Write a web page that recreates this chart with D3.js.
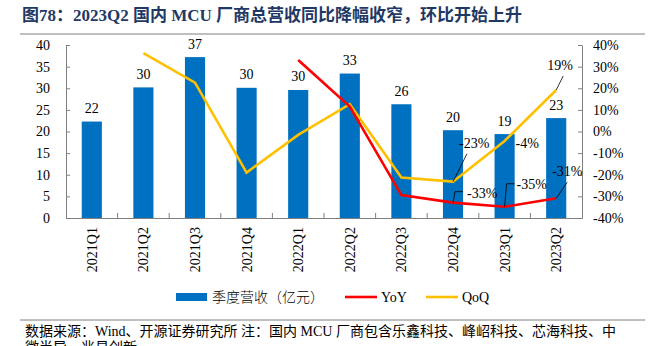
<!DOCTYPE html>
<html><head><meta charset="utf-8">
<script src="https://cdn.jsdelivr.net/npm/d3@7"></script>
<style>
html,body{margin:0;padding:0;background:#fff;}
svg{display:block;}
text{font-family:"Liberation Serif","Times New Roman","Noto Sans CJK SC",serif;}
</style></head>
<body>
<script>
const categories = ["2021Q1","2021Q2","2021Q3","2021Q4","2022Q1","2022Q2","2022Q3","2022Q4","2023Q1","2023Q2"];
const revenue = [22.3, 30.2, 37.2, 30.1, 29.6, 33.4, 26.3, 20.3, 19.4, 23.1];
const yoy = [null, null, null, null, 0.331, 0.115, -0.294, -0.329, -0.348, -0.309];
const qoq = [null, 0.362, 0.226, -0.190, -0.016, 0.126, -0.213, -0.232, -0.044, 0.192];
const leftTicks = [0,5,10,15,20,25,30,35,40];
const rightTicks = [-0.4,-0.3,-0.2,-0.1,0,0.1,0.2,0.3,0.4];
const seriesNames = ["季度营收（亿元）","YoY","QoQ"];
const titleText = "图78：2023Q2 国内 MCU 厂商总营收同比降幅收窄，环比开始上升";
const sourceLines = ["数据来源：Wind、开源证券研究所 注：国内 MCU 厂商包含乐鑫科技、峰岹科技、芯海科技、中", "微半导、兆易创新"];
// labelled line points: [series, category index]
const yoyLabelIdx = [7, 8, 9];
const qoqLabelIdx = [7, 8, 9];

const W = 652, H = 346;
const BLUE = "#0070C0", RED = "#FF0000", ORANGE = "#FFC000", AX = "#808080";
const svg = d3.select("body").append("svg").attr("width", W).attr("height", H);

// title
svg.append("text").attr("x", 22).attr("y", 21).attr("fill", "#1F3864")
  .attr("font-size", 17).attr("font-weight", "bold").text(titleText);
svg.append("line").attr("x1", 20).attr("x2", 645).attr("y1", 34).attr("y2", 34)
  .attr("stroke", "#7f7f7f").attr("stroke-width", 1);

const x0 = 66, x1 = 582, yB = 218, yT = 45;
const x = d3.scaleBand().domain(categories).range([x0, x1]).paddingInner(0.61).paddingOuter(0.305);
const cx = c => x(c) + x.bandwidth() / 2;
const yL = d3.scaleLinear().domain([0, 40]).range([yB, yT]);
const yR = d3.scaleLinear().domain([-0.4, 0.4]).range([yB, yT]);

// bars
svg.append("g").selectAll("rect").data(revenue).join("rect")
  .attr("x", (d, i) => x(categories[i])).attr("width", x.bandwidth())
  .attr("y", d => yL(d)).attr("height", d => yB - yL(d)).attr("fill", BLUE);
svg.append("g").selectAll("text").data(revenue).join("text")
  .attr("x", (d, i) => cx(categories[i])).attr("y", d => yL(d) - 8.5)
  .attr("text-anchor", "middle").attr("font-size", 14).text(d => Math.round(d));

// axes
const gl = svg.append("g").attr("transform", `translate(${x0},0)`)
  .call(d3.axisLeft(yL).tickValues(leftTicks).tickSizeInner(-4).tickSizeOuter(0).tickPadding(16));
const gr = svg.append("g").attr("transform", `translate(${x1},0)`)
  .call(d3.axisRight(yR).tickValues(rightTicks).tickSizeInner(-4).tickSizeOuter(0).tickPadding(11)
    .tickFormat(d => Math.round(d * 100) + "%"));
const gb = svg.append("g").attr("transform", `translate(0,${yB})`)
  .call(d3.axisBottom(x).tickSize(0).tickPadding(0));
gb.selectAll("text").attr("transform", "rotate(-90)").attr("text-anchor", "end")
  .attr("x", -9).attr("y", 0).attr("dy", "0.35em");
// boundary ticks
const step = x.step();
gb.append("g").selectAll("line").data(d3.range(1, categories.length)).join("line")
  .attr("x1", i => x0 + i * step).attr("x2", i => x0 + i * step)
  .attr("y1", 0).attr("y2", -5).attr("stroke", AX);
[gl, gr, gb].forEach(g => {
  g.selectAll(".domain").attr("stroke", AX);
  g.selectAll(".tick line").attr("stroke", AX);
  g.selectAll("text").attr("font-size", 14).attr("fill", "#000")
    .attr("font-family", '"Liberation Serif","Times New Roman",serif');
});

// lines
const lineGen = d3.line().defined(d => d.v !== null).x(d => cx(d.c)).y(d => yR(d.v));
const toPts = arr => arr.map((v, i) => ({ c: categories[i], v }));
svg.append("path").datum(toPts(qoq)).attr("d", lineGen).attr("fill", "none")
  .attr("stroke", ORANGE).attr("stroke-width", 2.6).attr("stroke-linejoin", "miter");
svg.append("path").datum(toPts(yoy)).attr("d", lineGen).attr("fill", "none")
  .attr("stroke", RED).attr("stroke-width", 2.6).attr("stroke-linejoin", "miter");

// annotations (leader offsets are style)
const fmt = v => Math.round(v * 100) + "%";
const ann = svg.append("g");
function annotate(arr, i, leader, tx, ty, anchor) {
  const px = cx(categories[i]), py = yR(arr[i]);
  if (leader) {
    ann.append("polyline").attr("points", [[px, py], ...leader.map(p => [px + p[0], py + p[1]])].map(p => p.join(",")).join(" "))
      .attr("fill", "none").attr("stroke", "#000").attr("stroke-width", 0.8);
  }
  ann.append("text").attr("x", px + tx).attr("y", py + ty).attr("font-size", 14)
    .attr("text-anchor", anchor || "start").text(fmt(arr[i]));
}
annotate(qoq, qoqLabelIdx[0], [[14, -28]], 6, -34);
annotate(qoq, qoqLabelIdx[1], null, 11, 7);
annotate(qoq, qoqLabelIdx[2], [[7, -14]], 4, -20, "middle");
annotate(yoy, yoyLabelIdx[0], [[2, -11], [10, -11]], 14, -5);
annotate(yoy, yoyLabelIdx[1], [[2, -23], [10, -23]], 12, -18);
annotate(yoy, yoyLabelIdx[2], [[11, -16]], -4, -22);

// legend
const lg = svg.append("g").attr("transform", "translate(0,297)");
lg.append("rect").attr("x", 176).attr("y", -4).attr("width", 31).attr("height", 8).attr("fill", BLUE);
lg.append("text").attr("x", 212).attr("y", 5).attr("font-size", 14)
  .attr("font-family", '"Noto Sans CJK SC",sans-serif').attr("font-weight", 300).text(seriesNames[0]);
lg.append("line").attr("x1", 345).attr("x2", 377).attr("y1", 0).attr("y2", 0).attr("stroke", RED).attr("stroke-width", 2.6);
lg.append("text").attr("x", 381).attr("y", 5).attr("font-size", 14).text(seriesNames[1]);
lg.append("line").attr("x1", 426).attr("x2", 458).attr("y1", 0).attr("y2", 0).attr("stroke", ORANGE).attr("stroke-width", 2.6);
lg.append("text").attr("x", 462).attr("y", 5).attr("font-size", 14).text(seriesNames[2]);

// footer
svg.append("line").attr("x1", 20).attr("x2", 645).attr("y1", 320).attr("y2", 320)
  .attr("stroke", "#7f7f7f").attr("stroke-width", 1);
svg.selectAll(".src").data(sourceLines).join("text").attr("class", "src")
  .attr("x", 25).attr("y", (d, i) => 336 + i * 16).attr("font-size", 14).text(d => d);
</script>
</body></html>
